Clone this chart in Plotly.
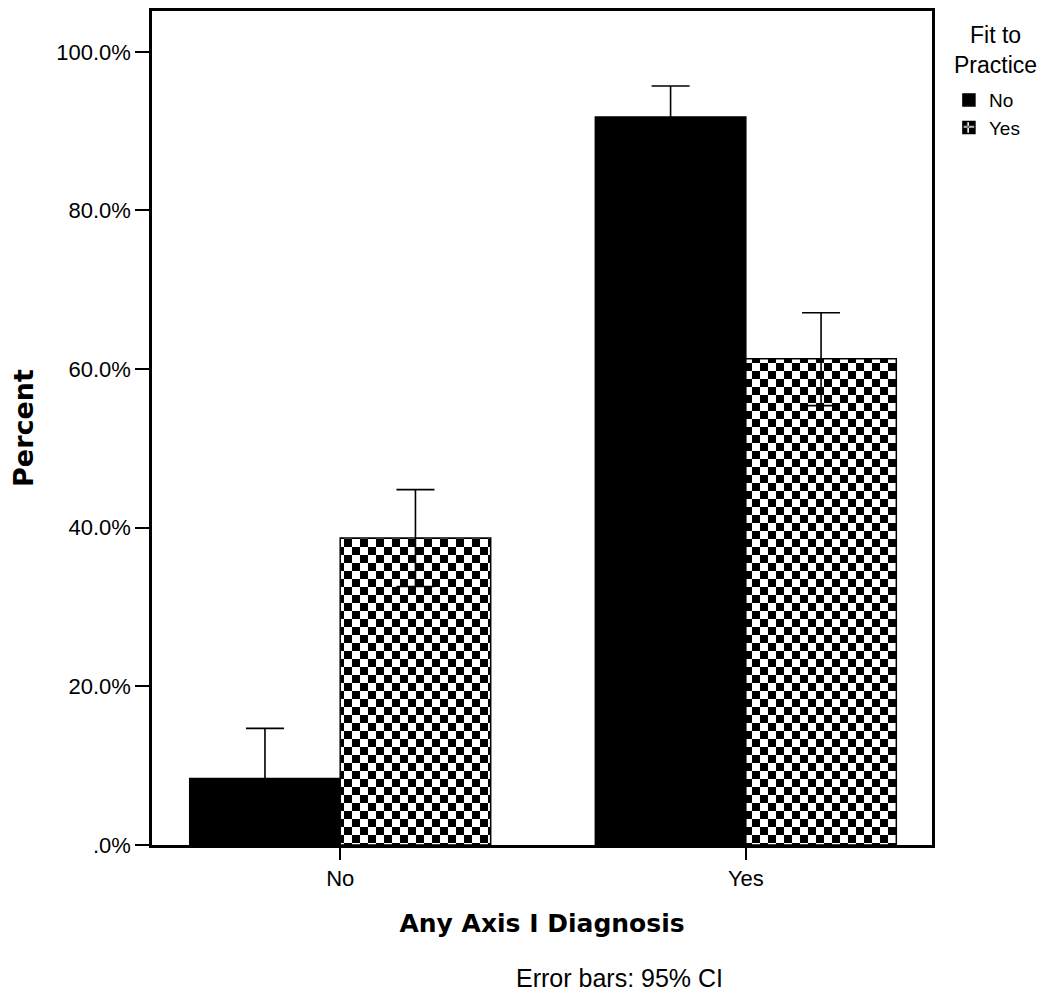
import plotly.graph_objects as go

# ---- data ----
categories = ["No", "Yes"]                 # Any Axis I Diagnosis
series_names = ["No", "Yes"]               # Fit to Practice
pct_fit_no = [8.4, 91.8]
ci_low_fit_no = [2.1, 87.9]
ci_high_fit_no = [14.7, 95.7]
pct_fit_yes = [38.7, 61.3]
ci_low_fit_yes = [32.6, 55.4]
ci_high_fit_yes = [44.8, 67.1]
y_tick_vals = [0, 20, 40, 60, 80, 100]
y_tick_text = [".0%", "20.0%", "40.0%", "60.0%", "80.0%", "100.0%"]

TICK_FONT = dict(family="Liberation Sans, Arial", size=22, color="#000")

fig = go.Figure()

fig.add_trace(go.Bar(
    x=categories, y=pct_fit_no, name=series_names[0],
    marker=dict(color="#000", line=dict(color="#000", width=1.5)),
    error_y=dict(type="data", symmetric=False,
                 array=[h - v for h, v in zip(ci_high_fit_no, pct_fit_no)],
                 arrayminus=[v - l for v, l in zip(pct_fit_no, ci_low_fit_no)],
                 color="#000", thickness=1.6, width=19),
))

fig.add_trace(go.Bar(
    x=categories, y=pct_fit_yes, name=series_names[1],
    marker=dict(color="#fff", line=dict(color="#000", width=1.5),
                pattern=dict(path="M0,0H8V8H0ZM8,8H16V16H8Z", size=16,
                             fgcolor="#000", bgcolor="#fff",
                             solidity=1, fgopacity=1)),
    error_y=dict(type="data", symmetric=False,
                 array=[h - v for h, v in zip(ci_high_fit_yes, pct_fit_yes)],
                 arrayminus=[v - l for v, l in zip(pct_fit_yes, ci_low_fit_yes)],
                 color="#000", thickness=1.6, width=19),
))

fig.update_layout(
    width=1042, height=987,
    margin=dict(l=144, r=118, t=0, b=150),
    paper_bgcolor="#fff", plot_bgcolor="#fff",
    barmode="group", bargap=0.258, bargroupgap=0,
    showlegend=True,
    legend=dict(
        x=1.0217, xanchor="left", xref="paper", y=0.916, yanchor="top",
        font=dict(family="Liberation Sans, Arial", size=19, color="#000"),
        bgcolor="rgba(0,0,0,0)", tracegroupgap=0, itemwidth=30,
    ),
    xaxis=dict(
        type="category", range=[-0.464, 1.459],
        showline=True, linecolor="#000", linewidth=2.5, mirror=True,
        ticks="outside", ticklen=12, tickwidth=2, tickcolor="#000",
        tickfont=TICK_FONT, showgrid=False, zeroline=False,
        title=dict(text="Any Axis I Diagnosis", standoff=25,
                   font=dict(family="DejaVu Sans", size=25, color="#000", weight="bold")),
    ),
    yaxis=dict(
        range=[0, 105.15],
        tickvals=y_tick_vals, ticktext=y_tick_text,
        showline=True, linecolor="#000", linewidth=2.5, mirror=True,
        ticks="outside", ticklen=14, tickwidth=2, tickcolor="#000",
        tickfont=TICK_FONT, showgrid=False, zeroline=False,
        title=dict(text="Percent", standoff=26,
                   font=dict(family="DejaVu Sans", size=27, color="#000", weight="bold")),
    ),
    annotations=[
        dict(text="Fit to<br>Practice", xref="paper", yref="paper",
             x=1.0817, y=0.989, xanchor="center", yanchor="top", align="center",
             showarrow=False,
             font=dict(family="Liberation Sans, Arial", size=23, color="#000")),
        dict(text="Error bars: 95% CI", xref="paper", yref="paper",
             x=0.599, y=-0.1589, xanchor="center", yanchor="middle", showarrow=False,
             font=dict(family="Liberation Sans, Arial", size=25, color="#000")),
    ],
)

fig.write_html("out.html")
